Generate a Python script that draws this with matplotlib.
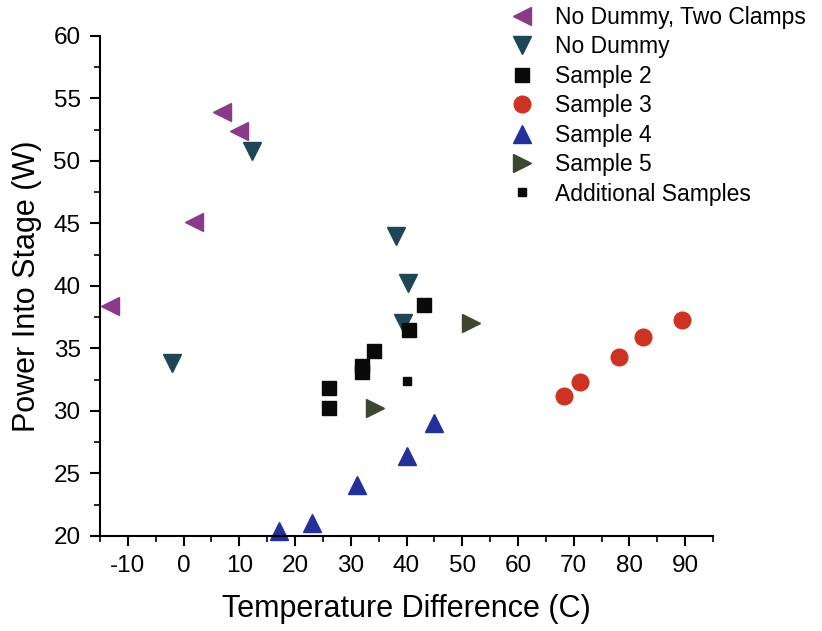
import matplotlib
matplotlib.use("Agg")
import matplotlib.pyplot as plt
from matplotlib.ticker import MultipleLocator

plt.rcParams['font.family'] = ['Liberation Sans', 'DejaVu Sans']
plt.rcParams['axes.unicode_minus'] = False

# data
two_clamps_x = [-13.2, 6.8, 9.9, 1.8]
two_clamps_y = [38.4, 53.9, 52.4, 45.1]

no_dummy_x = [-2.0, 12.2, 38.2, 40.3, 39.3]
no_dummy_y = [33.8, 50.8, 44.0, 40.2, 37.0]

sample2_x = [26.0, 26.0, 32.0, 32.0, 34.2, 40.4, 43.2]
sample2_y = [31.8, 30.2, 33.6, 33.1, 34.8, 36.5, 38.5]

sample3_x = [68.3, 71.2, 78.2, 82.4, 89.4]
sample3_y = [31.2, 32.3, 34.3, 35.9, 37.3]

sample4_x = [17.1, 23.1, 31.1, 40.1, 45.0]
sample4_y = [20.4, 21.0, 24.1, 26.4, 29.0]

sample5_x = [34.4, 51.5]
sample5_y = [30.2, 37.0]

additional_x = [40.1]
additional_y = [32.4]

fig = plt.figure(figsize=(8.22, 6.31), dpi=100)
ax = fig.add_axes([0.1217, 0.1506, 0.7457, 0.7924])

ax.plot(two_clamps_x, two_clamps_y, '<', color='#8a3a88', ms=13, ls='none',
        label='No Dummy, Two Clamps')
ax.plot(no_dummy_x, no_dummy_y, 'v', color='#1d4656', ms=13, ls='none',
        label='No Dummy')
ax.plot(sample2_x, sample2_y, 's', color='#0a0a0a', ms=10, ls='none',
        label='Sample 2')
ax.plot(sample3_x, sample3_y, 'o', color='#cc3322', ms=12, ls='none',
        label='Sample 3')
ax.plot(sample4_x, sample4_y, '^', color='#23309a', ms=13, ls='none',
        label='Sample 4', clip_on=False)
ax.plot(sample5_x, sample5_y, '>', color='#3c4630', ms=13, ls='none',
        label='Sample 5')
ax.plot(additional_x, additional_y, 's', color='#0a0a0a', ms=6, ls='none',
        label='Additional Samples')

ax.set_xlim(-15, 95)
ax.set_ylim(20, 60)
ax.xaxis.set_major_locator(MultipleLocator(10))
ax.xaxis.set_minor_locator(MultipleLocator(5))
ax.yaxis.set_major_locator(MultipleLocator(5))
ax.yaxis.set_minor_locator(MultipleLocator(2.5))

for side in ['top', 'right']:
    ax.spines[side].set_visible(False)
for side in ['left', 'bottom']:
    ax.spines[side].set_linewidth(1.5)

ax.tick_params(which='major', direction='out', length=7, width=1.5,
               labelsize=17.5, pad=7)
ax.tick_params(which='minor', direction='out', length=4, width=1.2)

ax.set_xlabel('Temperature Difference (C)', fontsize=22, labelpad=12)
ax.set_ylabel('Power Into Stage (W)', fontsize=22, labelpad=8)

fig.legend(loc='upper left', bbox_to_anchor=(0.596, 1.005), frameon=False,
           fontsize=16.5, handletextpad=0.45, labelspacing=0.28,
           borderaxespad=0)

fig.savefig('out.png', dpi=100)
